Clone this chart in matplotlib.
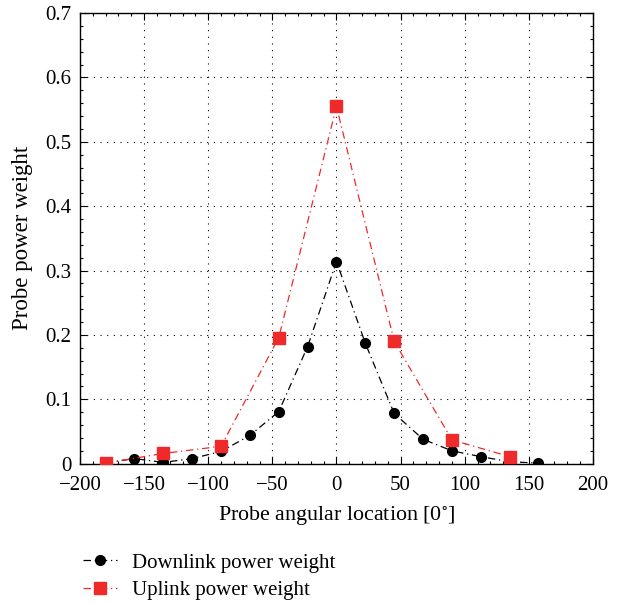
import matplotlib
matplotlib.use("Agg")
import matplotlib.pyplot as plt
from matplotlib.ticker import MultipleLocator

plt.rcParams['font.family'] = ['Liberation Serif', 'DejaVu Serif']
plt.rcParams['mathtext.fontset'] = 'stix'

down_angles = [-180, -157.5, -135, -112.5, -90, -67.5, -45, -22.5, 0, 22.5, 45, 67.5, 90, 112.5, 135, 157.5]
down_weights = [0.001, 0.008, 0.002, 0.008, 0.019, 0.044, 0.081, 0.182, 0.314, 0.187, 0.078, 0.038, 0.020, 0.011, 0.003, 0.001]
up_angles = [-180, -135, -90, -45, 0, 45, 90, 135]
up_weights = [0.001, 0.016, 0.027, 0.196, 0.555, 0.190, 0.037, 0.011]

xticks = [-200, -150, -100, -50, 0, 50, 100, 150, 200]
yticks = [0, 0.1, 0.2, 0.3, 0.4, 0.5, 0.6, 0.7]

fig = plt.figure(figsize=(6.23, 6.03), dpi=100)
ax = fig.add_axes([0.1284, 0.231, 0.8234, 0.7474])

red = '#ee2a2a'
ax.plot(up_angles, up_weights, color=red, linestyle=(0, (6, 3, 1, 3)), linewidth=0.9,
        marker='s', markersize=9, markerfacecolor=red, markeredgecolor=red,
        label='Uplink power weight', zorder=3)
ax.plot(down_angles, down_weights, color='black', linestyle=(0, (6, 3, 1, 3)), linewidth=0.9,
        marker='o', markersize=7, markerfacecolor='black', markeredgecolor='black',
        label='Downlink power weight', zorder=2)

ax.set_xlim(-200, 200)
ax.set_ylim(0, 0.7)
ax.set_xticks(xticks)
ax.set_yticks(yticks)
ax.set_xticklabels(['\u2212200', '\u2212150', '\u2212100', '\u221250', '0', '50', '100', '150', '200'])
ax.set_yticklabels(['0', '0.1', '0.2', '0.3', '0.4', '0.5', '0.6', '0.7'])
ax.xaxis.set_minor_locator(MultipleLocator(10))
ax.yaxis.set_minor_locator(MultipleLocator(0.02))
ax.tick_params(which='both', direction='in', top=True, right=True, labelsize=15, width=0.8)
ax.tick_params(which='major', length=5, pad=6)
ax.tick_params(axis='x', which='major', pad=9)
ax.tick_params(which='minor', length=2.5)
ax.grid(True, which='major', linestyle=(0, (1, 5)), color='black', linewidth=0.8)
for s in ax.spines.values():
    s.set_linewidth(1.0)

ax.set_xlabel('Probe angular location [0$^{\\circ}$]', fontsize=15.8, labelpad=7)
ax.set_ylabel('Probe power weight', fontsize=16.5, labelpad=9)

h, l = ax.get_legend_handles_labels()
fig.legend([h[1], h[0]], [l[1], l[0]], loc='upper left', bbox_to_anchor=(0.133, 0.083),
           frameon=False, fontsize=15, handlelength=1.65, handletextpad=0.7, labelspacing=0.38,
           borderaxespad=0, borderpad=0)

fig.savefig('out.png', dpi=100)
